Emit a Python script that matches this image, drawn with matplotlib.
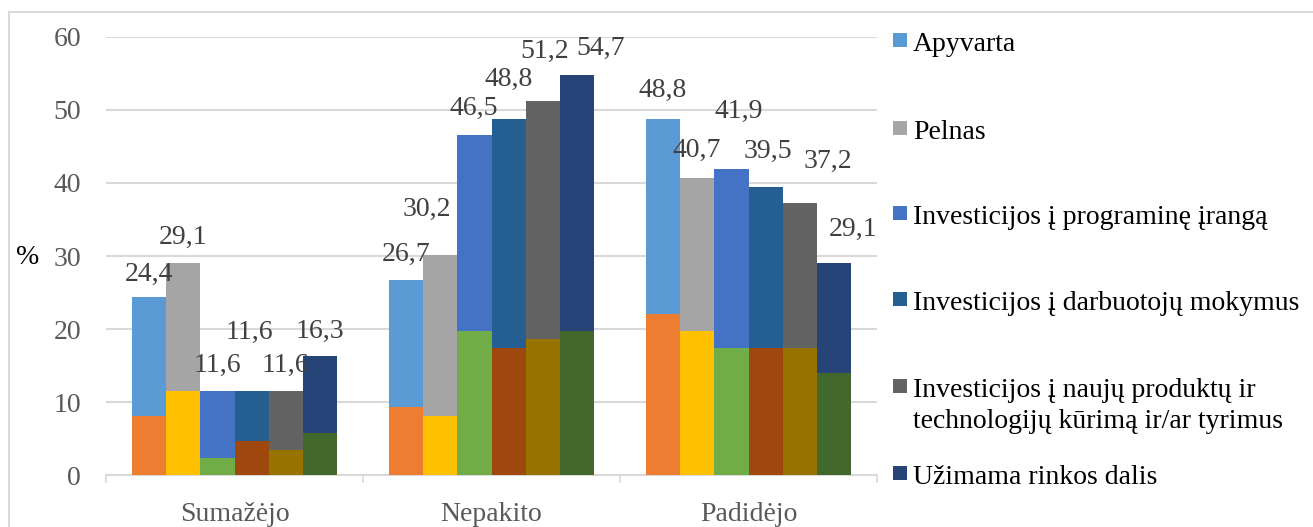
import matplotlib
matplotlib.use("Agg")
import matplotlib.pyplot as plt
from matplotlib.patches import Rectangle
from matplotlib.lines import Line2D
import numpy as np

categories = ["Sumažėjo", "Nepakito", "Padidėjo"]
series_names = [
    "Apyvarta",
    "Pelnas",
    "Investicijos į programinę įrangą",
    "Investicijos į darbuotojų mokymus",
    "Investicijos į naujų produktų ir\ntechnologijų kūrimą ir/ar tyrimus",
    "Užimama rinkos dalis",
]
# main (labelled) values per series: [Sumažėjo, Nepakito, Padidėjo]
apyvarta = [24.4, 26.7, 48.8]
pelnas = [29.1, 30.2, 40.7]
inv_programine = [11.6, 46.5, 41.9]
inv_darbuotoju = [11.6, 48.8, 39.5]
inv_produktu = [11.6, 51.2, 37.2]
rinkos_dalis = [16.3, 54.7, 29.1]
main_values = [apyvarta, pelnas, inv_programine, inv_darbuotoju, inv_produktu, rinkos_dalis]

# overlaid (unlabelled) lower series
apyvarta_low = [8.1, 9.3, 22.0]
pelnas_low = [11.6, 8.1, 19.8]
inv_programine_low = [2.3, 19.8, 17.4]
inv_darbuotoju_low = [4.7, 17.4, 17.4]
inv_produktu_low = [3.5, 18.6, 17.4]
rinkos_dalis_low = [5.8, 19.8, 14.0]
low_values = [apyvarta_low, pelnas_low, inv_programine_low,
              inv_darbuotoju_low, inv_produktu_low, rinkos_dalis_low]

y_ticks = [0, 10, 20, 30, 40, 50, 60]

# styles
main_colors = ["#5B9BD5", "#A5A5A5", "#4472C4", "#255E91", "#636363", "#264478"]
low_colors = ["#ED7D31", "#FFC000", "#70AD47", "#9E480E", "#997300", "#43682B"]
# manual data-label offsets (pixels) [series][category]
label_offsets = [
    [(0, 23), (0, 26), (0, 28)],
    [(0, 25), (-13, 45), (0, 27)],
    [(0, 25), (-1, 27), (7, 58)],
    [(-2, 58), (0, 39), (2, 35)],
    [(0, 25), (2, 50), (28, 42)],
    [(0, 25), (23, 27), (19, 33)],
]

W, H, DPI = 1313, 527, 100
FS = 20
plt.rcParams["font.family"] = ["Liberation Serif", "DejaVu Serif"]
fig = plt.figure(figsize=(W / DPI, H / DPI), dpi=DPI)
fig.patch.set_facecolor("white")

ax_l, ax_r = 106 / W, 877 / W
ax_b, ax_t = (H - 475.3) / H, (H - 36.7) / H
ax = fig.add_axes([ax_l, ax_b, ax_r - ax_l, ax_t - ax_b])

n = len(main_values)
x = np.arange(len(categories))
bw = 0.8 / n
for j in range(n):
    xs = x + (j - (n - 1) / 2) * bw
    ax.bar(xs, main_values[j], width=bw, color=main_colors[j], linewidth=0, zorder=2)
for j in range(n):
    xs = x + (j - (n - 1) / 2) * bw
    ax.bar(xs, low_values[j], width=bw, color=low_colors[j], linewidth=0, zorder=3)
for j in range(n):
    xs = x + (j - (n - 1) / 2) * bw
    for i, v in enumerate(main_values[j]):
        dx, dy = label_offsets[j][i]
        ax.annotate(f"{v:.1f}".replace(".", ","), xy=(xs[i], v), xytext=(dx, dy),
                    textcoords="offset pixels", ha="center", va="center",
                    fontsize=FS, color="#404040", zorder=5)

ax.set_xlim(-0.5, len(categories) - 0.5)
ax.set_ylim(0, 60)
ax.set_yticks(y_ticks)
ax.set_yticklabels([str(t) for t in y_ticks])
ax.set_xticks(x)
ax.set_xticklabels(categories)
ax.set_xticks(np.arange(len(categories) + 1) - 0.5, minor=True)
ax.tick_params(axis="y", length=0, pad=18, labelsize=FS, labelcolor="#595959")
ax.tick_params(axis="x", which="major", length=0, pad=19, labelsize=FS, labelcolor="#595959")
ax.tick_params(axis="x", which="minor", length=5.8, width=1.2, color="#D9D9D9")
for s in ["top", "right", "left"]:
    ax.spines[s].set_visible(False)
ax.spines["bottom"].set_color("#D9D9D9")
ax.spines["bottom"].set_linewidth(1.5)
ax.grid(axis="y", color="#D9D9D9", linewidth=1.5, zorder=0)
ax.set_axisbelow(True)

fig.text(28 / W, (H - 257.5) / H, "%", ha="center", va="center", fontsize=FS, color="black")

# chart frame (left and top visible)
fig.add_artist(Line2D([9 / W, 9 / W], [0, (H - 12) / H], color="#D9D9D9", linewidth=1.5))
fig.add_artist(Line2D([9 / W, 1], [(H - 12) / H, (H - 12) / H], color="#D9D9D9", linewidth=1.5))

# legend
row_centers = [40, 127.7, 213, 299.3, 386, 472.7]
line_px = 31
for j in range(n):
    yc = row_centers[j]
    fig.add_artist(Rectangle((893 / W, (H - yc - 7) / H), 14 / W, 14 / H,
                             facecolor=main_colors[j], edgecolor="none"))
    lines = series_names[j].split("\n")
    for k, line in enumerate(lines):
        fig.text(913 / W, (H - yc - 11 - k * line_px) / H, line, ha="left", va="baseline",
                 fontsize=FS, color="black")

fig.savefig("out.png", dpi=DPI, facecolor="white")
